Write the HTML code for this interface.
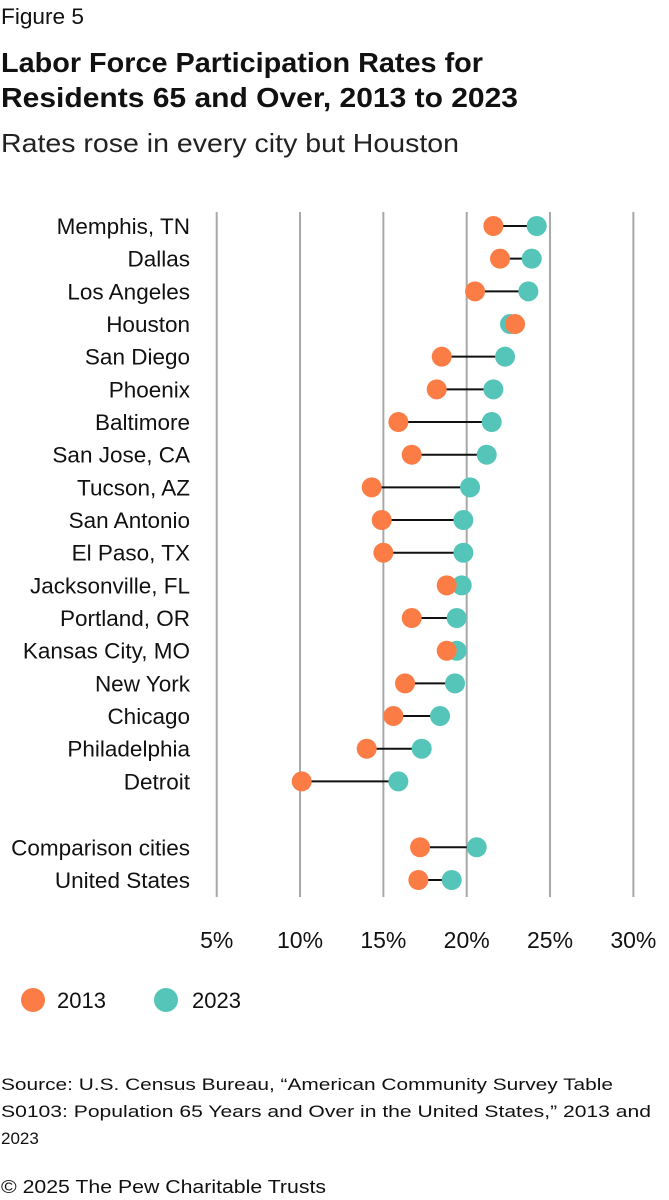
<!DOCTYPE html>
<html><head><meta charset="utf-8"><style>
html,body{margin:0;padding:0;background:#fff;}
svg{display:block;font-family:"Liberation Sans",sans-serif;}
</style></head><body>
<svg id="chart" width="669" height="1200" viewBox="0 0 669 1200">
<text x="1" y="24" font-size="22" fill="#111" textLength="83" lengthAdjust="spacingAndGlyphs">Figure 5</text>
<text x="1" y="72" font-size="28" font-weight="bold" fill="#111" textLength="482" lengthAdjust="spacingAndGlyphs">Labor Force Participation Rates for</text>
<text x="1" y="107" font-size="28" font-weight="bold" fill="#111" textLength="517" lengthAdjust="spacingAndGlyphs">Residents 65 and Over, 2013 to 2023</text>
<text x="1" y="152" font-size="26" fill="#222" textLength="458" lengthAdjust="spacingAndGlyphs">Rates rose in every city but Houston</text>
<g id="grid"></g>
<g id="marks"></g>
<g id="labels"></g>
<g id="ticks"></g>
<g>
<circle cx="33" cy="1000" r="12" fill="#fb7d45"></circle>
<text x="57" y="1008" font-size="22" fill="#111">2013</text>
<circle cx="166" cy="1000" r="12" fill="#55c5b9"></circle>
<text x="192" y="1008" font-size="22" fill="#111">2023</text>
</g>
<text font-size="17" fill="#111">
<tspan x="1" y="1090" textLength="612" lengthAdjust="spacingAndGlyphs">Source: U.S. Census Bureau, “American Community Survey Table</tspan>
<tspan x="1" y="1117" textLength="650" lengthAdjust="spacingAndGlyphs">S0103: Population 65 Years and Over in the United States,” 2013 and</tspan>
<tspan x="1" y="1144">2023</tspan>
</text>
<text x="1" y="1193" font-size="18" fill="#111" textLength="325" lengthAdjust="spacingAndGlyphs">© 2025 The Pew Charitable Trusts</text>
</svg>
<script>
const categories = ["Memphis, TN","Dallas","Los Angeles","Houston","San Diego","Phoenix","Baltimore","San Jose, CA","Tucson, AZ","San Antonio","El Paso, TX","Jacksonville, FL","Portland, OR","Kansas City, MO","New York","Chicago","Philadelphia","Detroit","Comparison cities","United States"];
const values2013 = [21.6,22.0,20.5,22.9,18.5,18.2,15.9,16.7,14.3,14.9,15.0,18.8,16.7,18.8,16.3,15.6,14.0,10.1,17.2,17.1];
const values2023 = [24.2,23.9,23.7,22.6,22.3,21.6,21.5,21.2,20.2,19.8,19.8,19.7,19.4,19.4,19.3,18.4,17.3,15.9,20.6,19.1];
const tickValues = [5,10,15,20,25,30];
const tickLabels = ["5%","10%","15%","20%","25%","30%"];

const NS="http://www.w3.org/2000/svg";
function x(v){return 216.7+(v-5)*16.667;}
function y(i){return i<18 ? 226+i*32.67 : 847.3+(i-18)*32.7;}
function mk(tag,attrs,parent){const e=document.createElementNS(NS,tag);for(const k in attrs)e.setAttribute(k,attrs[k]);parent.appendChild(e);return e;}
const grid=document.getElementById('grid'),marks=document.getElementById('marks'),labels=document.getElementById('labels'),ticks=document.getElementById('ticks');
tickValues.forEach((t,i)=>{
  const l=mk('line',{x1:x(t),x2:x(t),y1:212,y2:897,stroke:'#a8a8a8','stroke-width':2},grid);
  
  
  const tx=mk('text',{x:x(t),y:948,'text-anchor':'middle','font-size':23,fill:'#111'},ticks);
  tx.textContent=tickLabels[i];
  
  
});
categories.forEach((c,i)=>{
  const yy=y(i);
  const slug=c.toLowerCase().replace(/[^a-z]+/g,'-').replace(/-$/,'');
  const lb=mk('text',{x:190,y:yy+8,'text-anchor':'end','font-size':22.5,fill:'#111'},labels);
  lb.textContent=c;
  
  
  const ln=mk('line',{x1:x(values2013[i]),x2:x(values2023[i]),y1:yy,y2:yy,stroke:'#111','stroke-width':2},marks);
  
  
  [['2023',values2023[i],'#55c5b9'],['2013',values2013[i],'#fb7d45']].forEach(([yr,v,col])=>{
    const d=mk('circle',{cx:x(v),cy:yy,r:10,fill:col},marks);
    
    
  });
});
</script>
</body></html>
